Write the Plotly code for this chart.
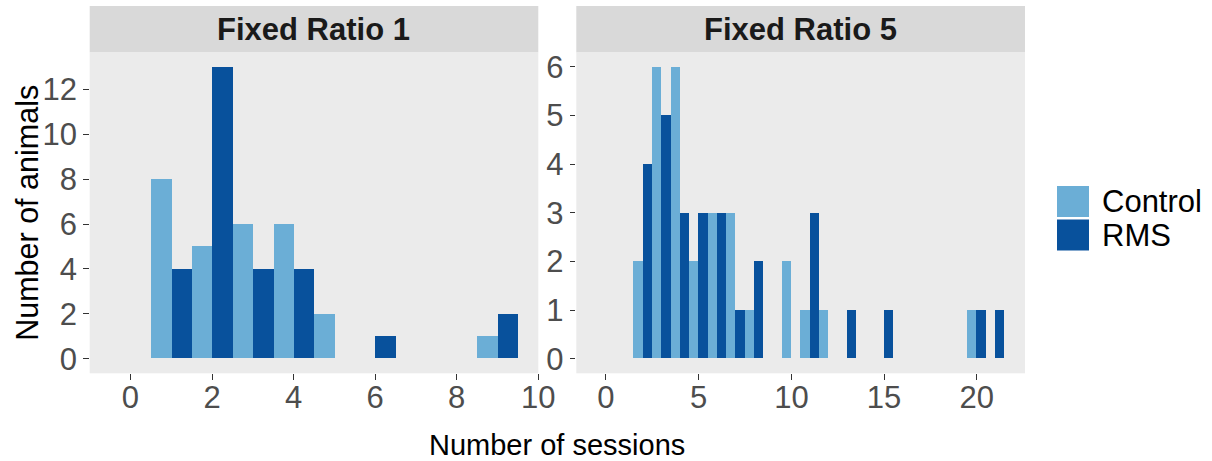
import plotly.graph_objects as go

# ---- data ----
fr1_bins = [1, 2, 3, 4, 5, 6, 9]
fr1_control = [8, 5, 6, 6, 2, 0, 1]
fr1_rms = [4, 13, 4, 4, 0, 1, 2]

fr5_bins = [2, 3, 4, 5, 6, 7, 8, 10, 11, 12, 13, 15, 20, 21]
fr5_control = [2, 6, 6, 2, 3, 3, 1, 2, 1, 1, 0, 0, 1, 0]
fr5_rms = [4, 5, 3, 3, 3, 1, 2, 0, 3, 0, 1, 1, 1, 1]

panel_titles = ["Fixed Ratio 1", "Fixed Ratio 5"]
groups = ["Control", "RMS"]
colors = {"Control": "#6BAED6", "RMS": "#08519C"}

fr1_xticks = [0, 2, 4, 6, 8, 10]
fr1_yticks = [0, 2, 4, 6, 8, 10, 12]
fr5_xticks = [0, 5, 10, 15, 20]
fr5_yticks = [0, 1, 2, 3, 4, 5, 6]

W, H = 1212, 461
FONT = "Liberation Sans, Arial, sans-serif"

def px_x(v):
    return v / W

def px_y(v):
    return 1 - v / H

fig = go.Figure()

panels = [
    (fr1_bins, fr1_control, fr1_rms, "x", "y"),
    (fr5_bins, fr5_control, fr5_rms, "x2", "y2"),
]
for bins, ctrl, rms, xa, ya in panels:
    fig.add_trace(go.Bar(x=bins, y=ctrl, width=0.5, offset=-0.5,
                         marker=dict(color=colors["Control"], line=dict(width=0)),
                         name="Control", showlegend=False, xaxis=xa, yaxis=ya))
    fig.add_trace(go.Bar(x=bins, y=rms, width=0.5, offset=0.0,
                         marker=dict(color=colors["RMS"], line=dict(width=0)),
                         name="RMS", showlegend=False, xaxis=xa, yaxis=ya))

left_dom = [px_x(89.7), px_x(538.3)]
right_dom = [px_x(576.3), px_x(1025)]
y_dom = [px_y(373.3), px_y(52.3)]

tick_font = dict(family=FONT, size=31, color="#4D4D4D")
common_axis = dict(showgrid=False, zeroline=False, ticks="outside", ticklen=5.5,
                   tickwidth=1.2, tickcolor="#333333", tickfont=tick_font,
                   showline=False, fixedrange=True)
x_axis_extra = dict(ticklabelstandoff=-9)

fig.update_layout(
    autosize=True,
    margin=dict(l=0, r=0, t=0, b=0, autoexpand=False),
    paper_bgcolor="white",
    plot_bgcolor="#EBEBEB",
    barmode="overlay",
    bargap=0,
    xaxis=dict(domain=left_dom, range=[-1, 10], tickvals=fr1_xticks, anchor="y",
               **common_axis, **x_axis_extra),
    yaxis=dict(domain=y_dom, range=[-0.65, 13.65], tickvals=fr1_yticks, anchor="x", **common_axis),
    xaxis2=dict(domain=right_dom, range=[-1.6, 22.6], tickvals=fr5_xticks, anchor="y2",
                **common_axis, **x_axis_extra),
    yaxis2=dict(domain=y_dom, range=[-0.3, 6.3], tickvals=fr5_yticks, anchor="x2", **common_axis),
)

shapes = []
annotations = []
# strips
for dom, title in zip([left_dom, right_dom], panel_titles):
    shapes.append(dict(type="rect", xref="paper", yref="paper",
                       x0=dom[0], x1=dom[1], y0=px_y(52.3), y1=px_y(6),
                       fillcolor="#D9D9D9", line=dict(width=0), layer="below"))
    annotations.append(dict(text="<b>%s</b>" % title, xref="paper", yref="paper",
                            x=(dom[0] + dom[1]) / 2, y=px_y(30), showarrow=False,
                            xanchor="center", yanchor="middle",
                            font=dict(family=FONT, size=31, color="#1A1A1A")))

# axis titles
annotations.append(dict(text="Number of sessions", xref="paper", yref="paper",
                        x=(left_dom[0] + right_dom[1]) / 2, y=px_y(445), showarrow=False,
                        xanchor="center", yanchor="middle",
                        font=dict(family=FONT, size=29, color="black")))
annotations.append(dict(text="Number of animals", xref="paper", yref="paper",
                        x=px_x(27), y=px_y(212.8), showarrow=False, textangle=-90,
                        xanchor="center", yanchor="middle",
                        font=dict(family=FONT, size=30.5, color="black")))

# legend (manual)
key_tops = [186, 219.5]
for g, top in zip(groups, key_tops):
    shapes.append(dict(type="rect", xref="paper", yref="paper",
                       x0=px_x(1057), x1=px_x(1089), y0=px_y(top + 31), y1=px_y(top),
                       fillcolor=colors[g], line=dict(width=0)))
    annotations.append(dict(text=g, xref="paper", yref="paper",
                            x=px_x(1100), y=px_y(top + 15.5), showarrow=False,
                            xanchor="left", yanchor="middle",
                            font=dict(family=FONT, size=31, color="black")))

fig.update_layout(shapes=shapes, annotations=annotations)

fig.write_html(
    "out.html",
    default_width="100vw",
    default_height="100vh",
    config={"displayModeBar": False, "responsive": True},
    post_script=(
        "document.documentElement.style.margin='0';"
        "document.documentElement.style.overflow='hidden';"
        "document.body.style.margin='0';"
        "document.body.style.overflow='hidden';"
        "var gd=document.getElementById('{plot_id}');"
        "gd.style.width='100vw';gd.style.height='100vh';"
        "Plotly.Plots.resize(gd);"
    ),
)
